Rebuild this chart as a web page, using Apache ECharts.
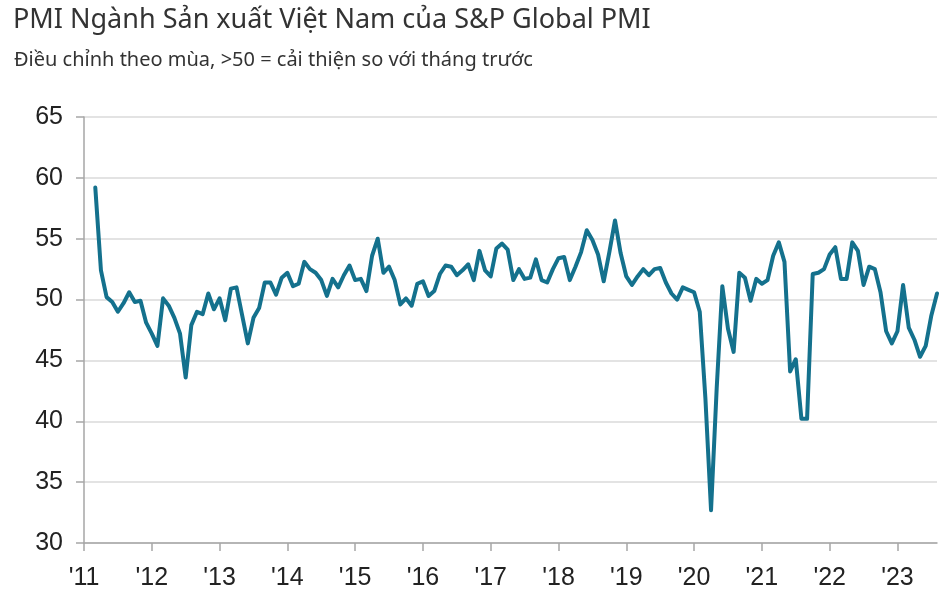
<!DOCTYPE html>
<html>
<head>
<meta charset="utf-8">
<script src="https://cdn.jsdelivr.net/npm/echarts@6/dist/echarts.min.js"></script>
<style>html,body{margin:0;padding:0;background:#fff;}#c{width:946px;height:596px;}</style>
</head>
<body>
<div id="c"></div>
<script>
const yearLabels = ["'11","'12","'13","'14","'15","'16","'17","'18","'19","'20","'21","'22","'23"];
const yTicks = [30, 35, 40, 45, 50, 55, 60, 65];
// Monthly PMI values, Jan..Dec of each year (null = no data)
const pmi2011 = [null, null, 59.2, 52.4, 50.2, 49.8, 49.0, 49.7, 50.6, 49.8, 49.9, 48.1];
const pmi2012 = [47.2, 46.2, 50.1, 49.5, 48.5, 47.2, 43.6, 47.9, 49.0, 48.8, 50.5, 49.2];
const pmi2013 = [50.1, 48.3, 50.9, 51.0, 48.7, 46.4, 48.5, 49.3, 51.4, 51.4, 50.4, 51.8];
const pmi2014 = [52.2, 51.1, 51.3, 53.1, 52.5, 52.2, 51.6, 50.3, 51.7, 51.0, 52.0, 52.8];
const pmi2015 = [51.6, 51.7, 50.7, 53.6, 55.0, 52.2, 52.7, 51.6, 49.6, 50.1, 49.5, 51.3];
const pmi2016 = [51.5, 50.3, 50.7, 52.1, 52.8, 52.7, 52.0, 52.4, 52.9, 51.6, 54.0, 52.4];
const pmi2017 = [51.9, 54.2, 54.6, 54.1, 51.6, 52.5, 51.7, 51.8, 53.3, 51.6, 51.4, 52.5];
const pmi2018 = [53.4, 53.5, 51.6, 52.7, 53.9, 55.7, 54.9, 53.7, 51.5, 53.9, 56.5, 53.8];
const pmi2019 = [51.9, 51.2, 51.9, 52.5, 52.0, 52.5, 52.6, 51.4, 50.5, 50.0, 51.0, 50.8];
const pmi2020 = [50.6, 49.0, 41.9, 32.7, 42.7, 51.1, 47.6, 45.7, 52.2, 51.8, 49.9, 51.7];
const pmi2021 = [51.3, 51.6, 53.6, 54.7, 53.1, 44.1, 45.1, 40.2, 40.2, 52.1, 52.2, 52.5];
const pmi2022 = [53.7, 54.3, 51.7, 51.7, 54.7, 54.0, 51.2, 52.7, 52.5, 50.6, 47.4, 46.4];
const pmi2023 = [47.4, 51.2, 47.7, 46.7, 45.3, 46.2, 48.7, 50.5];

const values = [].concat(pmi2011, pmi2012, pmi2013, pmi2014, pmi2015, pmi2016, pmi2017,
  pmi2018, pmi2019, pmi2020, pmi2021, pmi2022, pmi2023);
const months = values.map((v, i) => (2011 + Math.floor(i / 12)) + '-' + String(i % 12 + 1).padStart(2, '0'));

const isJan = (idx) => idx % 12 === 0;

const chart = echarts.init(document.getElementById('c'), null, {renderer: 'canvas'});
chart.setOption({
  animation: false,
  backgroundColor: '#ffffff',
  title: [
    {
      text: 'PMI Ngành Sản xuất Việt Nam của S&P Global PMI',
      left: 8, top: 2,
      textStyle: {fontFamily: 'Noto Sans', fontSize: 27, fontWeight: 'normal', color: '#333333'}
    },
    {
      text: 'Điều chỉnh theo mùa, >50 = cải thiện so với tháng trước',
      left: 9, top: 45,
      textStyle: {fontFamily: 'Noto Sans', fontSize: 20, fontWeight: 'normal', color: '#333333'}
    }
  ],
  grid: {left: 84, right: 9, top: 117, bottom: 53, containLabel: false},
  xAxis: {
    type: 'category',
    data: months,
    boundaryGap: false,
    axisLine: {show: true, lineStyle: {color: '#a6a6a6', width: 1.5}},
    axisTick: {show: true, length: 8, interval: (i) => isJan(i), lineStyle: {color: '#a6a6a6', width: 1.5}},
    axisLabel: {
      interval: (i) => isJan(i),
      margin: 23,
      fontFamily: 'Liberation Sans', fontSize: 25, color: '#222222',
      formatter: (v) => yearLabels[parseInt(v.slice(0, 4), 10) - 2011]
    },
    splitLine: {show: false}
  },
  yAxis: {
    type: 'value',
    min: yTicks[0], max: yTicks[yTicks.length - 1], interval: 5,
    axisLine: {show: true, lineStyle: {color: '#a6a6a6', width: 1.5}},
    axisTick: {show: true, length: 8, lineStyle: {color: '#a6a6a6', width: 1.5}},
    axisLabel: {margin: 21, fontFamily: 'Liberation Sans', fontSize: 25, color: '#222222'},
    splitLine: {show: true, lineStyle: {color: '#dadada', width: 1.5}}
  },
  series: [{
    type: 'line',
    data: values,
    showSymbol: false,
    connectNulls: false,
    lineStyle: {color: '#14718d', width: 4, join: 'round', cap: 'round'},
    itemStyle: {color: '#14718d'}
  }]
});
</script>
</body>
</html>
